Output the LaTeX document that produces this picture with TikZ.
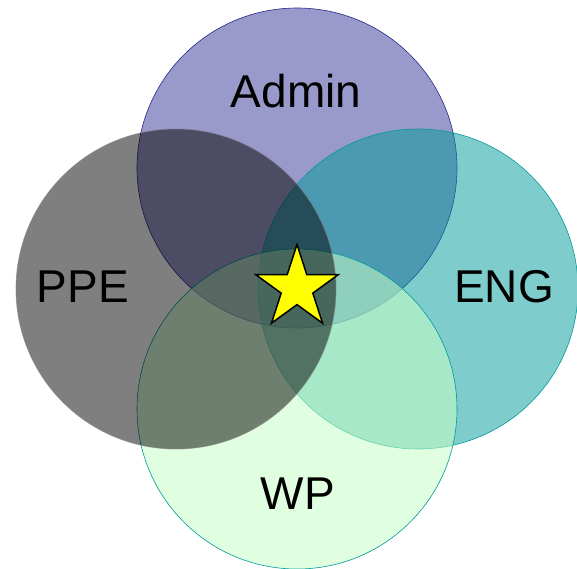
\documentclass[tikz,border=0pt]{standalone}
\usepackage{fontspec}
\setmainfont{Liberation Sans}
\usetikzlibrary{shapes.geometric}
\definecolor{admincol}{RGB}{51,51,153}
\definecolor{adminline}{RGB}{40,40,140}
\definecolor{engcol}{RGB}{0,153,153}
\definecolor{wpcol}{RGB}{198,255,198}
\definecolor{staryellow}{RGB}{255,255,0}
\tikzset{
  ring/.style={circle, minimum size=320pt, inner sep=0pt, outer sep=0pt, line width=0.6pt},
  lbl/.style={anchor=base, inner sep=0pt, font=\fontsize{46}{50}\selectfont, text=black},
}
\begin{document}
\begin{tikzpicture}[x=1pt,y=-1pt]
\useasboundingbox (0,0) rectangle (577,568);
\node[ring, fill=admincol, fill opacity=0.5, draw=adminline, draw opacity=1] (admin) at (297,168) {};
\node[ring, fill=engcol, fill opacity=0.5, draw=engcol, draw opacity=1] (eng) at (418,289) {};
\node[ring, fill=wpcol, fill opacity=0.55, draw=engcol, draw opacity=1] (wp) at (297,409) {};
\node[ring, fill=black, fill opacity=0.5, draw=gray, draw opacity=0.6, line width=0.8pt] (ppe) at (176,289) {};
\node[lbl] (tadmin) at (296,107.5) {Admin};
\node[lbl] (tppe) at (83,302) {PPE};
\node[lbl] (teng) at (504,302) {ENG};
\node[lbl] (twp) at (298,509) {WP};
\node[star, star points=5, star point ratio=2.618, minimum size=87pt, inner sep=0pt,
      fill=staryellow, draw=black, line width=1.5pt, shape border rotate=0] (star) at (297,288) {};
\end{tikzpicture}
\end{document}
